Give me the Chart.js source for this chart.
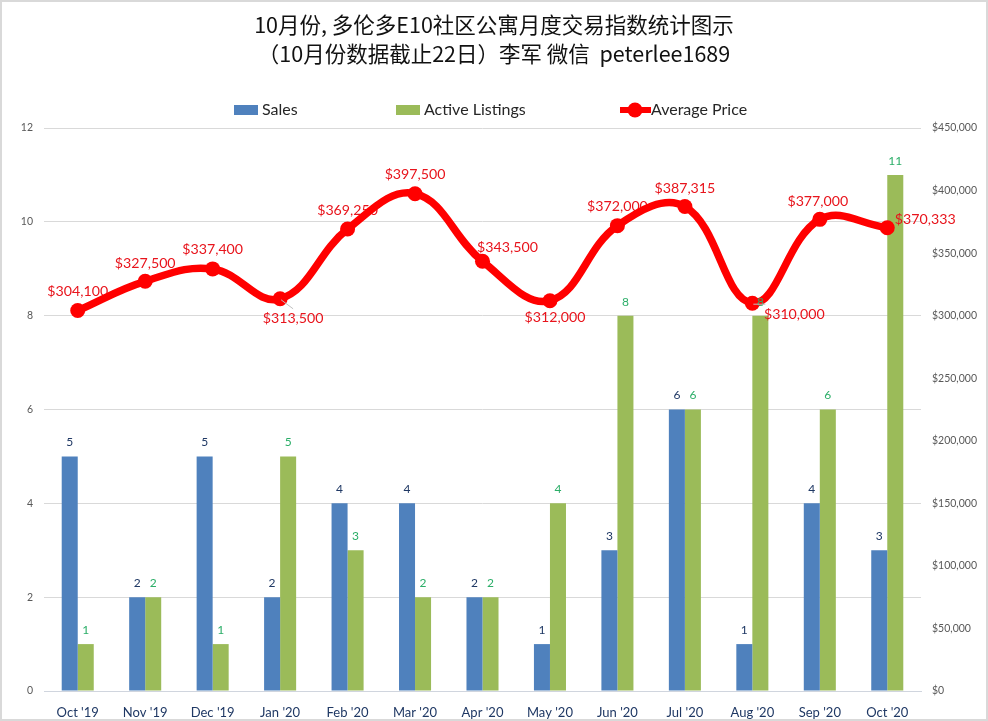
<!DOCTYPE html>
<html>
<head>
<meta charset="utf-8">
<title>E10 condo monthly</title>
<script src="https://cdn.jsdelivr.net/npm/chart.js@4"></script>
<style>
  body { margin: 0; background: #fff; }
  #chart { display: block; outline: 2px solid #d9d9d9; outline-offset: -2px; }
</style>
</head>
<body>
<canvas id="chart" width="988" height="721"></canvas>
<script>
const months = ["Oct '19", "Nov '19", "Dec '19", "Jan '20", "Feb '20", "Mar '20", "Apr '20", "May '20", "Jun '20", "Jul '20", "Aug '20", "Sep '20", "Oct '20"];
const sales = [5, 2, 5, 2, 4, 4, 2, 1, 3, 6, 1, 4, 3];
const listings = [1, 2, 1, 5, 3, 2, 2, 4, 8, 6, 8, 6, 11];
const prices = [304100, 327500, 337400, 313500, 369250, 397500, 343500, 312000, 372000, 387315, 310000, 377000, 370333];
const titleLines = ['10月份, 多伦多E10社区公寓月度交易指数统计图示', '（10月份数据截止22日）李军 微信  peterlee1689'];

const uiFont = 'Lato, "Open Sans", sans-serif';
const money = v => '$' + v.toLocaleString('en-US');

// where each price label sits relative to its point, hand placed like the original
const priceLabelOffsets = [[0, -19], [0, -18], [0, -19], [13, 20], [0, -19], [0, -19], [25, -14], [5, 17], [0, -19], [0, -18], [42, 11], [-2, -18], [38, -8]];
const leaderPoints = [3, 10];

// price labels go under the line, that is why a couple of them are partly hidden
const priceLabels = {
  id: 'priceLabels',
  beforeDatasetDraw(chart, args) {
    const ds = chart.data.datasets[args.index];
    if (ds.type !== 'line') return;
    const ctx = chart.ctx;
    ctx.save();
    ctx.textAlign = 'center';
    ctx.textBaseline = 'middle';
    ctx.font = '14.2px ' + uiFont;
    ctx.fillStyle = '#e8141c';
    chart.getDatasetMeta(args.index).data.forEach((pt, n) => {
      const off = priceLabelOffsets[n];
      ctx.fillText(money(ds.data[n]), pt.x + off[0], pt.y + off[1]);
    });
    ctx.restore();
  }
};

const barLabels = {
  id: 'barLabels',
  afterDatasetsDraw(chart) {
    const ctx = chart.ctx;
    ctx.save();
    ctx.textAlign = 'center';
    ctx.textBaseline = 'middle';
    ctx.font = '12px ' + uiFont;
    [0, 1].forEach(i => {
      ctx.fillStyle = i === 0 ? '#1f3864' : '#2bae68';
      chart.getDatasetMeta(i).data.forEach((bar, n) => {
        ctx.fillText(chart.data.datasets[i].data[n], bar.x, bar.y - 14);
      });
    });
    // little grey leader lines
    const line = chart.getDatasetMeta(2).data;
    ctx.strokeStyle = '#bfbfbf';
    ctx.lineWidth = 1;
    leaderPoints.forEach(n => {
      const off = priceLabelOffsets[n];
      ctx.beginPath();
      ctx.moveTo(line[n].x + 1, line[n].y + 1);
      ctx.lineTo(line[n].x + Math.min(off[0], 13), line[n].y + off[1] - 10);
      ctx.stroke();
    });
    ctx.restore();
  }
};

// the legend spacing here is wider than the built-in one allows without growing its box
const wideLegend = {
  id: 'wideLegend',
  afterDraw(chart) {
    const ctx = chart.ctx;
    const y = 110;
    const starts = [234, 396, 620];
    ctx.save();
    ctx.font = '16px ' + uiFont;
    ctx.textBaseline = 'middle';
    ctx.textAlign = 'left';
    chart.data.datasets.forEach((ds, i) => {
      const x = starts[i];
      if (ds.type === 'line') {
        ctx.strokeStyle = ds.borderColor;
        ctx.lineWidth = 6;
        ctx.beginPath();
        ctx.moveTo(x, y);
        ctx.lineTo(x + 31, y);
        ctx.stroke();
        ctx.fillStyle = ds.borderColor;
        ctx.beginPath();
        ctx.arc(x + 15, y, 7.5, 0, Math.PI * 2);
        ctx.fill();
      } else {
        ctx.fillStyle = ds.backgroundColor;
        ctx.fillRect(x, y - 5, 24, 10);
      }
      ctx.fillStyle = '#262626';
      ctx.fillText(ds.label, x + (ds.type === 'line' ? 31 : 28), y);
    });
    ctx.restore();
  }
};

new Chart(document.getElementById('chart'), {
  type: 'bar',
  data: {
    labels: months,
    datasets: [
      { label: 'Sales', data: sales, backgroundColor: '#4f81bd', yAxisID: 'y', order: 2 },
      { label: 'Active Listings', data: listings, backgroundColor: '#9bbb59', yAxisID: 'y', order: 2 },
      {
        type: 'line', label: 'Average Price', data: prices, yAxisID: 'y1', order: 1,
        borderColor: '#ff0000', backgroundColor: '#ff0000', borderWidth: 7.5,
        tension: 0.4, pointRadius: 7.5, pointHoverRadius: 7.5, pointBackgroundColor: '#ff0000', pointBorderWidth: 0
      }
    ]
  },
  plugins: [priceLabels, barLabels, wideLegend],
  options: {
    responsive: false,
    animation: false,
    layout: { padding: 0 },
    datasets: { bar: { categoryPercentage: 0.475, barPercentage: 1 } },
    plugins: {
      legend: { display: false },
      tooltip: { enabled: false },
      title: {
        display: true,
        text: titleLines,
        color: '#111',
        font: { family: '"Noto Sans CJK SC", sans-serif', size: 21.5, weight: 'normal', lineHeight: 1.35 },
        padding: { top: 10, bottom: 60 }
      }
    },
    scales: {
      x: {
        grid: { display: false },
        border: { color: '#d0d5de' },
        ticks: { color: '#1f3864', font: { family: uiFont, size: 13 }, maxRotation: 0, autoSkip: false, padding: 6 },
        afterFit(s) { s.height = 30; }
      },
      y: {
        position: 'left', min: 0, max: 12,
        grid: { color: '#d9d9d9', drawTicks: false },
        border: { display: false },
        ticks: { stepSize: 2, color: '#595959', font: { family: uiFont, size: 10.5 }, padding: 11 },
        afterFit(s) { s.width = 44; }
      },
      y1: {
        position: 'right', min: 0, max: 450000,
        grid: { display: false, drawTicks: false },
        border: { display: false },
        ticks: { stepSize: 50000, color: '#595959', font: { family: uiFont, size: 10.5 }, padding: 11, callback: v => money(v) },
        afterFit(s) { s.width = 67; }
      }
    }
  }
});
</script>
</body>
</html>
